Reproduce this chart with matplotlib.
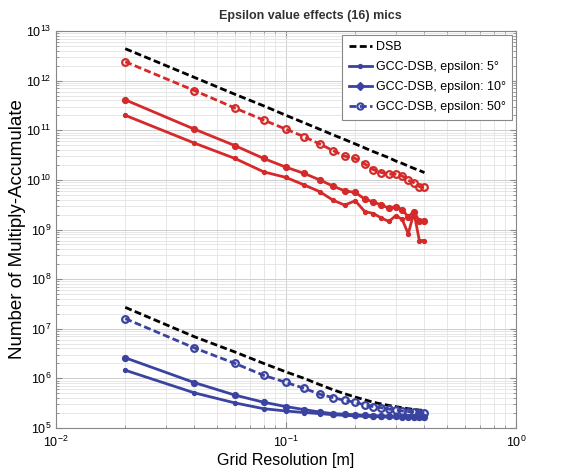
import matplotlib
matplotlib.use("Agg")
import matplotlib.pyplot as plt
from matplotlib.lines import Line2D

plt.rcParams['font.family'] = ['Liberation Sans', 'DejaVu Sans']

grid_res = [0.02, 0.04, 0.06, 0.08, 0.10, 0.12, 0.14, 0.16, 0.18, 0.20,
            0.22, 0.24, 0.26, 0.28, 0.30, 0.32, 0.34, 0.36, 0.38, 0.40]

# Upper (red) group
red_dsb = [4.4e12, 1.16e12, 5.3e11, 3.1e11, 2.0e11, 1.41e11, 1.05e11, 8.1e10, 6.5e10, 5.3e10,
           4.4e10, 3.7e10, 3.2e10, 2.8e10, 2.4e10, 2.15e10, 1.9e10, 1.7e10, 1.55e10, 1.4e10]
red_eps50 = [2.4e12, 6.3e11, 2.8e11, 1.6e11, 1.05e11, 7.4e10, 5.3e10, 3.9e10, 3.0e10, 2.7e10,
             2.1e10, 1.6e10, 1.4e10, 1.3e10, 1.3e10, 1.2e10, 9.8e9, 8.8e9, 7.3e9, 7.3e9]
red_eps10 = [4.1e11, 1.05e11, 4.9e10, 2.7e10, 1.8e10, 1.35e10, 1.0e10, 7.5e9, 6.0e9, 5.6e9,
             4.1e9, 3.6e9, 3.1e9, 2.7e9, 2.9e9, 2.5e9, 1.8e9, 2.3e9, 1.45e9, 1.5e9]
red_eps5 = [2.0e11, 5.5e10, 2.7e10, 1.45e10, 1.12e10, 7.9e9, 5.8e9, 3.9e9, 3.1e9, 3.8e9,
            2.3e9, 2.1e9, 1.7e9, 1.45e9, 1.9e9, 1.6e9, 8.2e8, 2.2e9, 6.0e8, 6.0e8]

# Lower (blue) group
blue_dsb = [2.7e7, 6.9e6, 3.4e6, 2.0e6, 1.35e6, 1.0e6, 7.5e5, 5.9e5, 4.9e5, 4.2e5,
            3.7e5, 3.3e5, 3.05e5, 2.85e5, 2.7e5, 2.55e5, 2.45e5, 2.37e5, 2.3e5, 2.25e5]
blue_eps50 = [1.6e7, 4.1e6, 2.0e6, 1.15e6, 8.3e5, 6.3e5, 4.8e5, 4.1e5, 3.6e5, 3.3e5,
              2.9e5, 2.7e5, 2.55e5, 2.4e5, 2.3e5, 2.2e5, 2.15e5, 2.1e5, 2.05e5, 2.0e5]
blue_eps10 = [2.6e6, 8.2e5, 4.6e5, 3.3e5, 2.7e5, 2.35e5, 2.1e5, 1.95e5, 1.9e5, 1.85e5,
              1.8e5, 1.78e5, 1.75e5, 1.73e5, 1.72e5, 1.7e5, 1.7e5, 1.68e5, 1.68e5, 1.67e5]
blue_eps5 = [1.46e6, 5.1e5, 3.2e5, 2.45e5, 2.2e5, 2.05e5, 1.95e5, 1.85e5, 1.8e5, 1.75e5,
             1.72e5, 1.7e5, 1.68e5, 1.66e5, 1.65e5, 1.64e5, 1.63e5, 1.62e5, 1.61e5, 1.6e5]

legend_labels = ["DSB", "GCC-DSB, epsilon: 5°", "GCC-DSB, epsilon: 10°", "GCC-DSB, epsilon: 50°"]
title = "Epsilon value effects (16) mics"
xlabel = "Grid Resolution [m]"
ylabel = "Number of Multiply-Accumulate"

RED = "#d42a2a"
BLUE = "#3a43a0"
DASH = (0, (2.5, 1.2))

fig = plt.figure(figsize=(5.69, 4.73), dpi=100)
ax = fig.add_axes([56/569, 1-428/473, 460/569, 397/473])
ax.set_xscale('log')
ax.set_yscale('log')
ax.set_xlim(1e-2, 1)
ax.set_ylim(1e5, 1e13)

for color, dsb, e5, e10, e50 in [(RED, red_dsb, red_eps5, red_eps10, red_eps50),
                                  (BLUE, blue_dsb, blue_eps5, blue_eps10, blue_eps50)]:
    ax.plot(grid_res, dsb, color='black', ls=DASH, lw=2.0, zorder=3)
    ax.plot(grid_res, e5, color=color, lw=2.0, marker='o', ms=2.8, zorder=4)
    ax.plot(grid_res, e10, color=color, lw=2.0, marker='o', ms=4.2, zorder=4)
    ax.plot(grid_res, e50, color=color, lw=2.0, ls=DASH, marker='o', ms=4.8,
            mfc='none', mew=1.6, zorder=4)

ax.grid(True, which='major', color='#cfcfcf', lw=0.7)
ax.grid(True, which='minor', color='#e3e3e3', lw=0.6)
ax.set_axisbelow(True)
ax.tick_params(which='both', direction='in', top=True, right=True, labelsize=9,
               color='#888888')
ax.tick_params(which='major', length=4)
ax.tick_params(which='minor', length=2)
ax.tick_params(axis='x', which='major', pad=5)
ax.tick_params(axis='x', which='minor', labelbottom=False)
for s in ax.spines.values():
    s.set_color('#888888')
    s.set_linewidth(0.8)

ax.set_xlabel(xlabel, fontsize=11.5)
ax.xaxis.set_label_coords(0.5, -0.064)
ax.set_ylabel(ylabel, fontsize=13.5)
ax.yaxis.set_label_coords(-0.066, 0.5)
ax.text(0.554, 1.022, title, transform=ax.transAxes, ha='center', va='bottom',
        fontsize=9, fontweight='bold', color='#333333')

handles = [
    Line2D([], [], color='black', ls=DASH, lw=2.0),
    Line2D([], [], color=BLUE, lw=2.0, marker='o', ms=2.8),
    Line2D([], [], color=BLUE, lw=2.0, marker='D', ms=4),
    Line2D([], [], color=BLUE, lw=2.0, ls=DASH, marker='o', ms=4.5, mfc='none', mew=1.5),
]
leg = ax.legend(handles, legend_labels, loc='upper right', fontsize=9.0,
                handlelength=1.9, handletextpad=0.3, labelspacing=0.65,
                borderpad=0.5, borderaxespad=0.3, fancybox=False, framealpha=1,
                edgecolor='#888888', bbox_to_anchor=(1.0, 1.0))
leg.get_frame().set_linewidth(0.8)

fig.savefig("out.png", dpi=100)
